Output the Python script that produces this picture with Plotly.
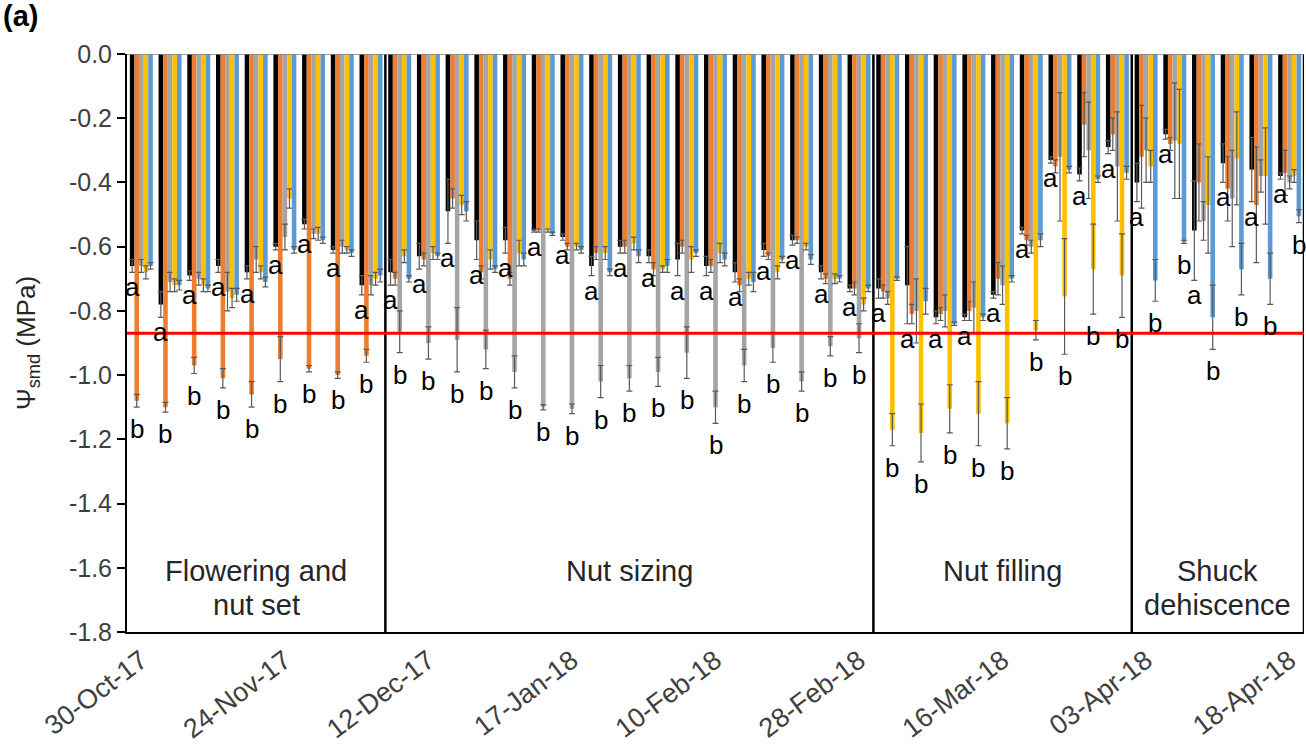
import plotly.graph_objects as go

# Axis tick labels (one sampling date shown every fifth sampling)
date_labels = ["30-Oct-17", "24-Nov-17", "12-Dec-17", "17-Jan-18", "10-Feb-18",
               "28-Feb-18", "16-Mar-18", "03-Apr-18", "18-Apr-18"]
date_positions = [0, 5, 10, 15, 20, 25, 30, 35, 40]

y_ticks = [0.0, -0.2, -0.4, -0.6, -0.8, -1.0, -1.2, -1.4, -1.6, -1.8]

# Phenological stages: label lines, number of sampling dates, stressed treatment index
stage_labels = [["Flowering and", "nut set"], ["Nut sizing"], ["Nut filling"], ["Shuck", "dehiscence"]]
stage_lengths = [9, 17, 9, 6]
stage_stressed = [1, 2, 3, 4]

treatments = ["Control", "Deficit at flowering", "Deficit at nut sizing",
              "Deficit at nut filling", "Deficit at shuck dehiscence"]
colors = ["#000000", "#ED7D31", "#A5A5A5", "#FFC000", "#5B9BD5"]

threshold = -0.87

# Stem water potential (MPa) and standard errors per sampling date
control = [-0.66, -0.78, -0.69, -0.66, -0.68, -0.60, -0.53, -0.61, -0.72,
           -0.68, -0.63, -0.49, -0.58, -0.58, -0.55, -0.57, -0.66, -0.60, -0.63, -0.64,
           -0.66, -0.68, -0.61, -0.58, -0.68, -0.73,
           -0.73, -0.72, -0.82, -0.82, -0.75, -0.55, -0.33, -0.375, -0.29,
           -0.40, -0.25, -0.55, -0.34, -0.36, -0.38]
control_se = [0.02, 0.04, 0.015, 0.02, 0.02, 0.01, 0.015, 0.01, 0.03,
              0.04, 0.04, 0.10, 0.06, 0.04, 0.005, 0.01, 0.03, 0.02, 0.02, 0.05,
              0.03, 0.03, 0.02, 0.015, 0.02, 0.01,
              0.03, 0.12, 0.02, 0.01, 0.01, 0.01, 0.01, 0.02, 0.02,
              0.06, 0.015, 0.155, 0.06, 0.10, 0.01]

flowering = [-1.08, -1.10, -0.97, -1.01, -1.06, -0.95, -0.98, -1.00, -0.94,
             -0.70, -0.64, -0.45, -0.68, -0.70, -0.55, -0.60, -0.62, -0.60, -0.67, -0.60,
             -0.66, -0.72, -0.63, -0.58, -0.70, -0.73,
             -0.74, -0.81, -0.81, -0.80, -0.70, -0.58, -0.35, -0.22, -0.25,
             -0.32, -0.28, -0.40, -0.42, -0.47, -0.37]
flowering_se = [0.02, 0.015, 0.025, 0.03, 0.04, 0.07, 0.01, 0.01, 0.02,
                0.02, 0.02, 0.03, 0.02, 0.02, 0.005, 0.01, 0.02, 0.02, 0.02, 0.02,
                0.02, 0.02, 0.01, 0.01, 0.015, 0.02,
                0.02, 0.03, 0.02, 0.03, 0.05, 0.015, 0.02, 0.10, 0.05,
                0.16, 0.02, 0.12, 0.10, 0.18, 0.07]

nut_sizing = [-0.66, -0.71, -0.70, -0.74, -0.64, -0.57, -0.56, -0.60, -0.72,
              -0.865, -0.90, -0.89, -0.92, -0.99, -1.10, -1.105, -1.02, -1.01, -0.99, -0.93,
              -1.10, -0.97, -0.915, -1.02, -0.91, -0.885,
              -0.76, -0.80, -0.80, -0.79, -0.72, -0.60, -0.32, -0.30, -0.35,
              -0.30, -0.27, -0.52, -0.45, -0.38, -0.40]
nut_sizing_se = [0.02, 0.03, 0.02, 0.06, 0.04, 0.04, 0.015, 0.02, 0.03,
                 0.065, 0.05, 0.10, 0.06, 0.05, 0.008, 0.015, 0.05, 0.04, 0.045, 0.08,
                 0.05, 0.05, 0.045, 0.03, 0.03, 0.045,
                 0.02, 0.10, 0.05, 0.08, 0.06, 0.02, 0.20, 0.15, 0.17,
                 0.10, 0.18, 0.06, 0.15, 0.05, 0.02]

nut_filling = [-0.68, -0.72, -0.72, -0.76, -0.68, -0.45, -0.56, -0.61, -0.70,
               -0.63, -0.62, -0.47, -0.64, -0.62, -0.55, -0.60, -0.62, -0.59, -0.67, -0.64,
               -0.62, -0.70, -0.68, -0.60, -0.70, -0.78,
               -1.17, -1.18, -1.105, -1.12, -1.15, -0.86, -0.755, -0.67, -0.69,
               -0.35, -0.28, -0.47, -0.325, -0.38, -0.38]
nut_filling_se = [0.02, 0.02, 0.02, 0.03, 0.02, 0.03, 0.02, 0.01, 0.02,
                  0.02, 0.02, 0.03, 0.03, 0.04, 0.005, 0.01, 0.02, 0.02, 0.01, 0.04,
                  0.03, 0.02, 0.02, 0.01, 0.015, 0.02,
                  0.05, 0.09, 0.075, 0.10, 0.08, 0.03, 0.18, 0.14, 0.13,
                  0.05, 0.17, 0.15, 0.145, 0.15, 0.02]

shuck = [-0.66, -0.72, -0.73, -0.75, -0.71, -0.61, -0.58, -0.62, -0.69,
         -0.70, -0.63, -0.49, -0.67, -0.64, -0.56, -0.61, -0.68, -0.63, -0.66, -0.62,
         -0.64, -0.71, -0.64, -0.64, -0.70, -0.73,
         -0.70, -0.77, -0.84, -0.82, -0.70, -0.58, -0.36, -0.39, -0.37,
         -0.705, -0.585, -0.82, -0.67, -0.70, -0.505]
shuck_se = [0.01, 0.015, 0.01, 0.02, 0.015, 0.01, 0.01, 0.01, 0.02,
            0.01, 0.01, 0.03, 0.01, 0.02, 0.005, 0.01, 0.01, 0.02, 0.02, 0.01,
            0.02, 0.03, 0.01, 0.015, 0.01, 0.01,
            0.005, 0.04, 0.005, 0.01, 0.01, 0.02, 0.01, 0.01, 0.02,
            0.065, 0.005, 0.10, 0.08, 0.08, 0.02]

series = [control, flowering, nut_sizing, nut_filling, shuck]
series_se = [control_se, flowering_se, nut_sizing_se, nut_filling_se, shuck_se]

FONT = "Arial, Liberation Sans, sans-serif"
n = len(control)
x = list(range(n))
bargap = 0.2
bar_w = (1 - bargap) / len(series)


def bar_offset(k):
    return (k - (len(series) - 1) / 2) * bar_w


fig = go.Figure()
for name, color, vals, errs in zip(treatments, colors, series, series_se):
    fig.add_trace(go.Bar(
        x=x, y=vals, name=name, marker=dict(color=color, line=dict(width=0)),
        error_y=dict(type="data", array=errs, color="#595959", thickness=1.2, width=3),
    ))

annotations = []
shapes = []

# Significance letters: control ("a") and the treatment stressed in each stage ("b")
start = 0
for s, length in enumerate(stage_lengths):
    k = stage_stressed[s]
    for i in range(start, start + length):
        annotations.append(dict(
            x=i + bar_offset(0), y=control[i] - control_se[i], text="a",
            showarrow=False, xanchor="center", yanchor="top", yshift=2,
            font=dict(family=FONT, size=26, color="#000000")))
        annotations.append(dict(
            x=i + bar_offset(k), y=series[k][i] - series_se[k][i], text="b",
            showarrow=False, xanchor="center", yanchor="top", yshift=-5,
            font=dict(family=FONT, size=26, color="#000000")))
    # stage label, centred in its section
    centre = start + (length - 1) / 2
    for j, line in enumerate(stage_labels[s]):
        annotations.append(dict(
            x=centre, y=-1.555, text=line, showarrow=False, xanchor="center",
            yanchor="top", yshift=-34 * j,
            font=dict(family=FONT, size=29, color="#262626")))
    end = start + length
    # section divider / right border
    shapes.append(dict(type="line", xref="x", yref="y", x0=end - 0.5, x1=end - 0.5,
                       y0=-1.8, y1=0, line=dict(color="#000000", width=2.5), layer="above"))
    start = end

# zero line along the top and the threshold line
shapes.append(dict(type="line", xref="x", yref="y", x0=-0.5, x1=n - 0.5, y0=0, y1=0,
                   line=dict(color="#808080", width=1.5), layer="above"))
shapes.append(dict(type="line", xref="x", yref="y", x0=-0.5, x1=n - 0.5,
                   y0=threshold, y1=threshold, line=dict(color="#FF0000", width=3),
                   layer="above"))

annotations.append(dict(
    xref="paper", yref="paper", x=-0.107, y=1.097, xanchor="left", yanchor="top",
    text="<b>(a)</b>", showarrow=False, font=dict(family=FONT, size=29, color="#000000")))

fig.update_layout(
    width=1306, height=752,
    margin=dict(l=127, r=2, t=54, b=120),
    paper_bgcolor="white", plot_bgcolor="white",
    barmode="group", bargap=bargap, bargroupgap=0,
    showlegend=False,
    annotations=annotations, shapes=shapes,
    font=dict(family=FONT, color="#404040"),
)
fig.update_xaxes(
    range=[-0.5, n - 0.5], tickmode="array", tickvals=date_positions, ticktext=date_labels,
    tickangle=-37, tickfont=dict(family=FONT, size=27, color="#404040"),
    showgrid=False, zeroline=False, showline=True, linecolor="#000000", linewidth=2,
    ticks="",
)
fig.update_yaxes(
    range=[-1.8, 0], tickmode="array", tickvals=y_ticks,
    ticktext=[f"{v:.1f}" for v in y_ticks],
    tickfont=dict(family=FONT, size=25, color="#404040"),
    showgrid=False, zeroline=False, showline=True, linecolor="#000000", linewidth=2,
    ticks="outside", ticklen=8, tickcolor="#000000", tickwidth=1.5,
    title=dict(text="Ψ<sub>smd</sub> (MPa)", font=dict(family=FONT, size=26, color="#262626"),
               standoff=26),
)

fig.write_html("out.html")
